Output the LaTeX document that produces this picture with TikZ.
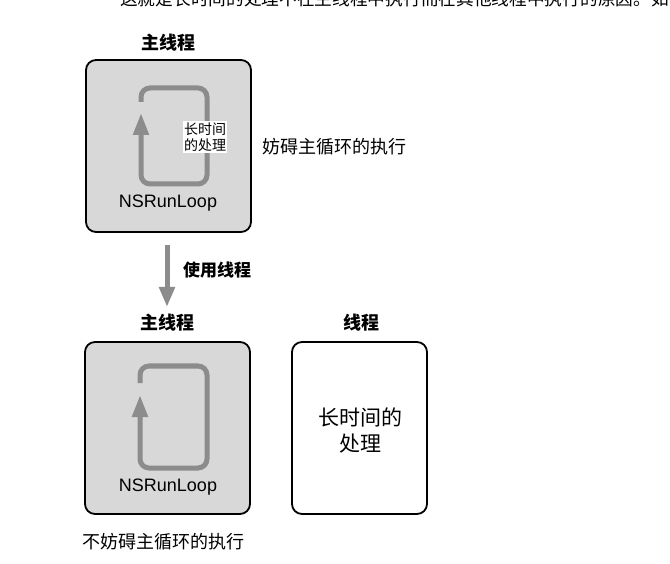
\documentclass[tikz,border=0pt]{standalone}
\usepackage{fontspec}
\setmainfont{Liberation Sans}
\newfontfamily\cjk{Noto Sans CJK SC}
\usetikzlibrary{arrows.meta}
\definecolor{boxgray}{HTML}{D8D8D8}
\definecolor{loopgray}{HTML}{8C8C8C}
\tikzset{
  thread/.style={draw=black, line width=1.8pt, rounded corners=10pt},
  mainbox/.style={thread, fill=boxgray},
  loopline/.style={draw=loopgray, line width=5pt, rounded corners=9pt, -{Triangle[length=22pt,width=15pt]}},
  title/.style={font=\cjk\bfseries\fontsize{18}{20}\selectfont, inner sep=0pt},
  note/.style={font=\cjk\fontsize{18}{20}\selectfont, inner sep=0pt, anchor=west},
  rl/.style={font=\fontsize{18}{20}\selectfont, inner sep=0pt},
}
\begin{document}
\begin{tikzpicture}[x=1pt, y=-1pt]
\useasboundingbox (0,0) rectangle (670,564);
\clip (0,0) rectangle (670,564);
\fill[white] (0,0) rectangle (670,564);
% cropped book line
\node[font=\cjk\fontsize{17.7}{19}\selectfont, inner sep=0pt, anchor=west] (book) at (120,-1) {这就是长时间的处理不在主线程中执行而在其他线程中执行的原因。如};
% top
\node[title] (t1) at (168,43) {主线程};
\draw[mainbox] (86,60) rectangle (251,232);
\coordinate (a1) at (141,102);
\coordinate (b1) at (141,113);
\draw[loopline] (a1) -- (141,88) -- (207,88) -- (207,184) -- (141,184) -- (b1);
\node[fill=white, inner sep=1pt, align=center, font=\cjk\fontsize{14}{16.5}\selectfont] (long1) at (205,137) {长时间\\的处理};
\node[rl] (rl1) at (168,203) {NSRunLoop};
\node[note] (n1) at (262,147) {妨碍主循环的执行};
% middle arrow
\coordinate (m1) at (167,245);
\coordinate (m2) at (167,307);
\draw[draw=loopgray, line width=5pt, -{Triangle[length=20pt,width=15pt]}] (m1) -- (m2);
\node[title, anchor=west, font=\cjk\bfseries\fontsize{17}{19}\selectfont] (use) at (183,270) {使用线程};
% bottom left
\node[title] (t2) at (167,323) {主线程};
\draw[mainbox] (85,342) rectangle (250,514);
\coordinate (a2) at (140,383);
\coordinate (b2) at (140,395);
\draw[loopline] (a2) -- (140,366) -- (207,366) -- (207,468) -- (140,468) -- (b2);
\node[rl] (rl2) at (168,487) {NSRunLoop};
\node[note] (n2) at (82,542) {不妨碍主循环的执行};
% bottom right
\node[title] (t3) at (361,323) {线程};
\draw[thread, fill=white] (292,342) rectangle (427,514);
\node[align=center, inner sep=0pt, font=\cjk\fontsize{21}{26}\selectfont] (long2) at (360,430) {长时间的\\处理};
\end{tikzpicture}
\end{document}
